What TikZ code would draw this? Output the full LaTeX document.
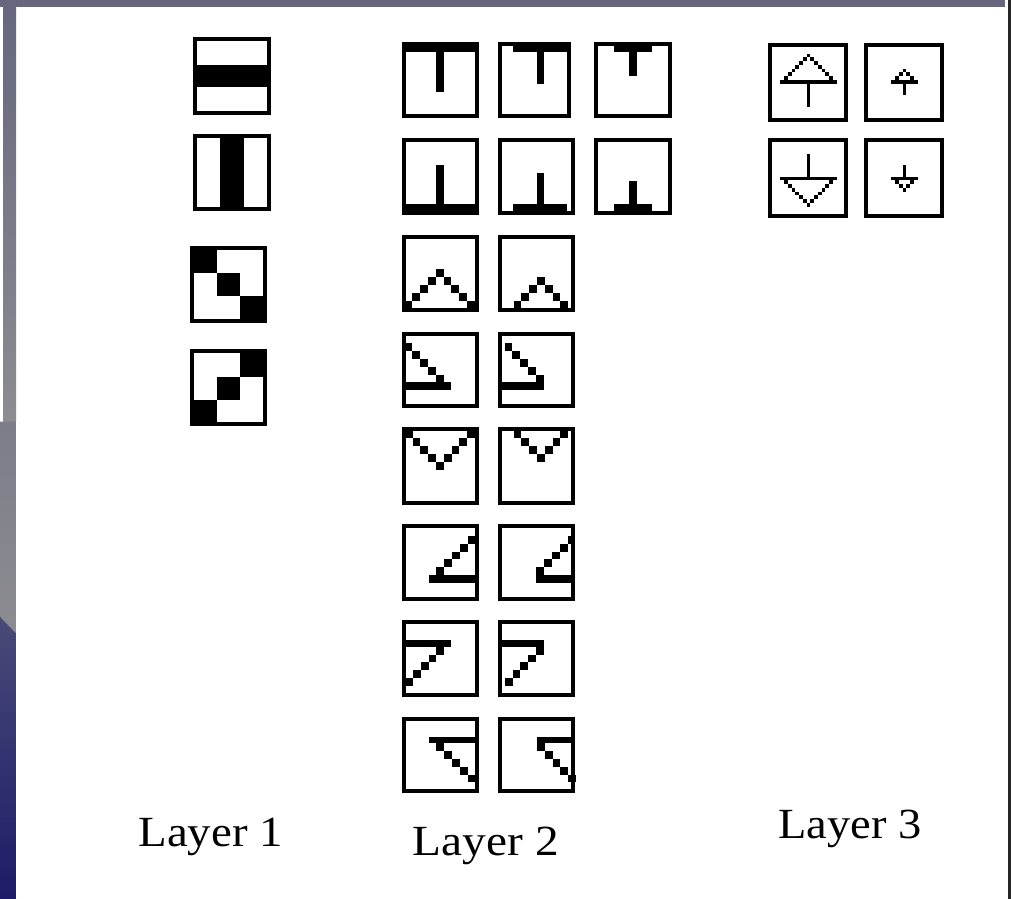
\documentclass[tikz,border=0pt]{standalone}
\usepackage{graphicx}
\usepackage{fontspec}
\setmainfont{Liberation Serif}
\definecolor{bandtop}{HTML}{66667E}
\definecolor{bandmid}{HTML}{8C8C91}
\definecolor{bluetop}{HTML}{4A4A78}
\definecolor{bluebot}{HTML}{1C1C68}
\newcommand{\sqbox}[4]{\draw[bx] ({#1+2},{#2+2}) rectangle ({#3-2},{#4-2});}
\newcommand{\bpx}[2]{\fill ({#1},{#2}) rectangle ++(7.8,7.8);}
\newcommand{\spx}[2]{\fill ({#1},{#2}) rectangle ++(3.75,3.75);}
\begin{document}
\begin{tikzpicture}[x=1pt,y=-1pt,
  bx/.style={draw=black,line width=4pt},
  lbl/.style={inner sep=0pt,font=\fontsize{43}{50}\selectfont,text=black}]
\useasboundingbox (0,0) rectangle (1012,899);
\fill[white] (0,0) rectangle (1012,899);
% background frame
\fill[bandtop] (0,0) rectangle (1005,6.7);
\shade[top color=bandtop,bottom color=bandmid] (3,0) rectangle (16,421.7);
\shade[top color={bandtop!40!bandmid},bottom color=bandmid] (0,421.7) -- (16,421.7) -- (16,633.3) -- (0,616.7) -- cycle;
\shade[top color=bluetop,bottom color=bluebot] (0,616.7) -- (16,633.3) -- (16,899) -- (0,899) -- cycle;
\fill[black!85] (1008.3,0) rectangle (1011,899);

% ---------------- Layer 1 ----------------
\fill (192.7,65) rectangle (270.7,87.3);
\sqbox{192.7}{37.3}{270.7}{115}
\fill (220,134) rectangle (244,211);
\sqbox{192.7}{134}{270.7}{211}
\fill (190,246) rectangle (216.7,272.7);
\fill (216.7,272.7) rectangle (240,296);
\fill (240,296) rectangle (267.3,322.7);
\sqbox{190}{246}{267.3}{322.7}
\fill (240,349.3) rectangle (267.3,376.7);
\fill (216.7,376.7) rectangle (240,400);
\fill (190,400) rectangle (216.7,426);
\sqbox{190}{349.3}{267.3}{426}

% ---------------- Layer 2 ----------------
% row 1
\fill (402.3,41.7) rectangle (479,52.3);
\fill (436,52.3) rectangle (444.3,92);
\sqbox{402.3}{41.7}{479}{118.3}
\fill (513.3,41.7) rectangle (571,52.3);
\fill (537,52.3) rectangle (544.3,84);
\sqbox{498.3}{41.7}{571}{118.3}
\fill (614,41.7) rectangle (651.7,52.3);
\fill (629,52.3) rectangle (636.7,76);
\sqbox{594.3}{41.7}{671.7}{118.3}
% row 2
\fill (402.3,204) rectangle (479,215);
\fill (436,164.7) rectangle (444.3,204);
\sqbox{402.3}{138}{479}{215}
\fill (513.3,204) rectangle (566.7,215);
\fill (537,172.7) rectangle (544.3,204);
\sqbox{498.3}{138}{575}{215}
\fill (614,204) rectangle (651.7,215);
\fill (629,181) rectangle (636.7,204);
\sqbox{594.3}{138}{671.7}{215}
% row 3
\foreach \i in {0,...,4} {\bpx{435.7-7.8*\i}{269.3+7.8*\i}\bpx{435.7+7.8*\i}{269.3+7.8*\i}}
\sqbox{402.3}{235}{479}{311.7}
\foreach \i in {0,...,3} {\bpx{537-7.8*\i}{277.3+7.8*\i}\bpx{537+7.8*\i}{277.3+7.8*\i}}
\sqbox{498.3}{235}{575}{311.7}
% row 4
\foreach \i in {0,...,4} {\bpx{404.5+7.8*\i}{343.3+7.8*\i}}
\fill (402.3,382) rectangle (451.3,389.8);
\sqbox{402.3}{331.7}{479}{408.3}
\foreach \i in {0,...,4} {\bpx{504.5+7.8*\i}{343.3+7.8*\i}}
\fill (502.3,382) rectangle (543.5,389.8);
\sqbox{498.3}{331.7}{575}{408.3}
% row 5
\foreach \i in {0,...,4} {\bpx{436-7.8*\i}{461.7-7.8*\i}\bpx{436+7.8*\i}{461.7-7.8*\i}}
\sqbox{402.3}{426.7}{479}{505}
\foreach \i in {0,...,3} {\bpx{537-7.8*\i}{454-7.8*\i}\bpx{537+7.8*\i}{454-7.8*\i}}
\sqbox{498.3}{426.7}{575}{505}
% row 6
\foreach \i in {0,...,4} {\bpx{467.5-7.8*\i}{536+7.8*\i}}
\fill (428.5,575) rectangle (475,582.5);
\sqbox{402.3}{524}{479}{600.7}
\foreach \i in {0,...,4} {\bpx{567.5-7.8*\i}{536+7.8*\i}}
\fill (536.3,575) rectangle (571,582.5);
\sqbox{498.3}{524}{575}{600.7}
% row 7
\fill (402.3,639.5) rectangle (451.3,646.7);
\foreach \i in {0,...,4} {\bpx{436.3-7.8*\i}{646.7+7.8*\i}}
\sqbox{402.3}{620}{479}{696.7}
\fill (502.3,639.5) rectangle (543.7,646.7);
\foreach \i in {0,...,4} {\bpx{536-7.8*\i}{646.7+7.8*\i}}
\sqbox{498.3}{620}{575}{696.7}
% row 8
\fill (428.5,736.5) rectangle (475,743.3);
\foreach \i in {0,...,4} {\bpx{436.3+7.8*\i}{743.3+7.8*\i}}
\sqbox{402.3}{716.7}{479}{793.3}
\fill (537,736.5) rectangle (571,743.3);
\foreach \i in {0,...,4} {\bpx{537+7.8*\i}{743.3+7.8*\i}}
\sqbox{498.3}{716.7}{575}{793.3}

% ---------------- Layer 3 ----------------
% big up
\foreach \i in {0,...,6} {\spx{806.7-3.75*\i}{53.75+3.75*\i}\spx{806.7+3.75*\i}{53.75+3.75*\i}}
\fill (780.45,80) rectangle (836.7,83.75);
\fill (806.7,83.75) rectangle (810.45,106.7);
\sqbox{768.3}{42.7}{848.3}{122.3}
% small up
\foreach \i in {0,...,2} {\spx{902.7-3.75*\i}{68.75+3.75*\i}\spx{902.7+3.75*\i}{68.75+3.75*\i}}
\fill (891.45,80) rectangle (917.7,83.75);
\fill (902.7,83.75) rectangle (906.45,95);
\sqbox{864.3}{42.7}{944.3}{122.3}
% big down
\fill (806.7,154) rectangle (810.45,176.7);
\fill (780.45,176.7) rectangle (836.7,180.45);
\foreach \i in {1,...,7} {\spx{806.7-3.75*(7-\i)}{176.7+3.75*\i}\spx{806.7+3.75*(7-\i)}{176.7+3.75*\i}}
\sqbox{768.3}{137.7}{848.3}{218.3}
% small down
\fill (902.7,165) rectangle (906.45,176.7);
\fill (891.45,176.7) rectangle (917.7,180.45);
\foreach \i in {1,...,3} {\spx{902.7-3.75*(3-\i)}{176.7+3.75*\i}\spx{902.7+3.75*(3-\i)}{176.7+3.75*\i}}
\sqbox{864.3}{137.7}{944.3}{218.3}

% ---------------- labels ----------------
\node[lbl,anchor=base west] (l1) at (138.3,846.7) {\scalebox{1.09}[1]{Layer 1}};
\node[lbl,anchor=base west] (l2) at (412.7,855) {\scalebox{1.10}[1]{Layer 2}};
\node[lbl,anchor=base west] (l3) at (778.3,838.3) {\scalebox{1.08}[1]{Layer 3}};
\end{tikzpicture}
\end{document}
